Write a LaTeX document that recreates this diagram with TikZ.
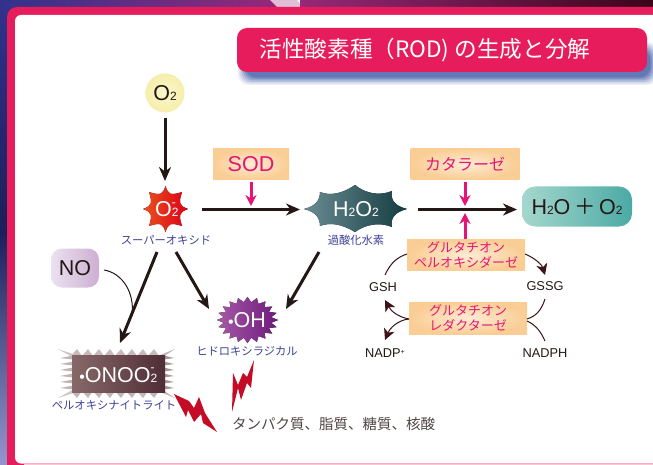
\documentclass[tikz,border=0pt]{standalone}
\usepackage{fontspec}
\setmainfont{Liberation Sans}
\newfontfamily\cjk{Noto Sans CJK JP}
\usetikzlibrary{arrows.meta}
\definecolor{rosered}{RGB}{230,28,92}
\definecolor{labelblue}{RGB}{62,66,150}
\definecolor{enz}{RGB}{250,205,148}
\definecolor{enzc}{RGB}{253,236,212}
\definecolor{mag}{RGB}{230,20,115}
\definecolor{ink}{RGB}{35,24,21}
\definecolor{maroon}{RGB}{60,20,25}
\definecolor{bolt}{RGB}{196,12,38}
\definecolor{bgA}{RGB}{50,50,140}
\definecolor{bgC}{RGB}{150,40,120}
\definecolor{bgD}{RGB}{60,5,25}
\definecolor{bgE}{RGB}{30,30,90}
\definecolor{bgF}{RGB}{150,150,205}
\definecolor{shadowc}{RGB}{50,80,160}
\definecolor{oneA}{RGB}{135,105,105}
\definecolor{oneB}{RGB}{80,45,55}
\definecolor{supA}{RGB}{235,80,30}
\definecolor{supB}{RGB}{220,0,25}
\definecolor{hA}{RGB}{105,140,145}
\definecolor{hB}{RGB}{20,60,65}
\definecolor{oA}{RGB}{165,90,165}
\definecolor{oB}{RGB}{110,25,125}
\definecolor{prodA}{RGB}{165,215,205}
\definecolor{prodB}{RGB}{75,170,165}
\definecolor{noA}{RGB}{235,225,240}
\definecolor{noB}{RGB}{205,175,210}
\definecolor{oxA}{RGB}{250,248,205}
\definecolor{oxB}{RGB}{246,238,170}
\tikzset{
 enzbox/.style={inner color=enzc,outer color=enz,minimum width=#1,minimum height=31pt,inner sep=0pt,align=center,text=mag},
 mainarrow/.style={draw=ink,line width=3pt,-{Stealth[length=14pt,width=12pt]}},
 pinkarrow/.style={draw=mag,line width=3pt,-{Stealth[length=11pt,width=11pt]}},
 cyc/.style={draw=maroon,line width=1pt},
 cyca/.style={draw=maroon,line width=1pt,-{Stealth[length=11pt,width=11pt,inset=3pt]}},
 lbl/.style={text=labelblue,font=\cjk\fontsize{11.3}{13}\selectfont,inner sep=0pt},
 small/.style={text=ink,font=\fontsize{12.8}{15}\selectfont,inner sep=0pt},
 big/.style={font=\fontsize{21.5}{24}\selectfont,inner sep=0pt},
}
\newcommand{\sbs}[1]{\raisebox{-.5pt}{\fontsize{12}{13}\selectfont #1}}
\newcommand{\rdot}{\raisebox{0pt}{\fontsize{16}{17}\selectfont •}}
\newcommand{\chg}[1]{\hspace{-6.5pt}\raisebox{#1}{\fontsize{12}{13}\selectfont -}\hspace{0pt}}
\begin{document}
\begin{tikzpicture}[x=1pt,y=-1pt]
\useasboundingbox (0,0) rectangle (653,465);
% background
\shade[top color=bgA,bottom color=bgF,middle color=bgE] (0,0) rectangle (20,465);
\fill[left color=bgA,right color=bgC] (0,0) rectangle (280,10);
\fill[white!70!bgC] (270,0) -- (297,0) -- (305,10) -- (280,10) -- cycle;
\fill[left color=bgC,right color=bgD] (300,0) rectangle (653,10);
% panel
\fill[rosered,rounded corners=10pt] (7,7) rectangle (680,480);
\fill[white,rounded corners=6pt] (15,15) rectangle (680,463.5);
\fill[rosered!25] (24,464) rectangle (653,465);
% title
\foreach \k/\o in {8/.1,6.5/.13,5/.17,3.5/.22,2/.28,.5/.35}{
  \fill[shadowc,opacity=\o,rounded corners=11pt] (246-\k,50-\k) rectangle (650+\k,77+\k);
}
\node[fill=rosered,rounded corners=10pt,minimum width=410pt,minimum height=44pt,inner sep=0pt] (title) at (442,50) {};
\node[text=white,font=\cjk\fontsize{22.6}{26}\selectfont,inner sep=0pt] (titlet) at (425,50) {活性酸素種（ROD) の生成と分解};
% O2
\node[circle,minimum size=39pt,inner color=oxA,outer color=oxB,big,text=ink] (o2) at (165,93) {O\sbs{2}};
% superoxide burst
\fill[left color=supA,right color=supB]
  (165.5,186) .. controls (168,194) and (170,196) .. (182,192)
  .. controls (178,204) and (180,206) .. (188,209)
  .. controls (180,212) and (178,214) .. (182,226)
  .. controls (170,222) and (168,224) .. (165.5,232)
  .. controls (163,224) and (161,222) .. (149,226)
  .. controls (153,214) and (151,212) .. (143,209)
  .. controls (151,206) and (153,204) .. (149,192)
  .. controls (161,196) and (163,194) .. (165.5,186) -- cycle;
\node[text=white,big] (sup2) at (165.5,209) {O\sbs{2}\chg{10pt}};
\node[lbl] (supl) at (166,240) {スーパーオキシド};
% H2O2
\fill[left color=hA,right color=hB]
 (304,209) .. controls (316,206) and (320,200) .. (320,192) .. controls (330,196) and (342,194) .. (355,185) .. controls (366,194) and (380,196) .. (392,191) .. controls (390,200) and (395,206) .. (407,209) .. controls (395,212) and (390,218) .. (392,227) .. controls (380,222) and (366,224) .. (355,232) .. controls (342,224) and (330,222) .. (320,226) .. controls (320,218) and (316,212) .. (304,209) -- cycle;
\node[text=white,big] (h2o2) at (356,209) {H\sbs{2}O\sbs{2}};
\node[lbl] (h2o2l) at (356,240) {過酸化水素};
% H2O + O2
\node[rounded corners=13pt,left color=prodA,right color=prodB,minimum width=110pt,minimum height=40pt,text=ink,big] (prod) at (577,206.5) {H\sbs{2}O\,{\cjk ＋}\,O\sbs{2}};
% enzymes
\node[enzbox=76pt,font=\fontsize{21.5}{24}\selectfont] (sod) at (251,164) {SOD};
\node[enzbox=109pt,font=\cjk\fontsize{16}{19}\selectfont] (cat) at (465,164) {カタラーゼ};
\node[enzbox=118pt,font=\cjk\fontsize{13}{14.5}\selectfont] (gpx) at (466,255) {グルタチオン\\ペルオキシダーゼ};
\node[enzbox=118pt,minimum height=32pt,font=\cjk\fontsize{13}{14.5}\selectfont] (gr) at (468,318) {グルタチオン\\レダクターゼ};
% NO
\node[rounded corners=11pt,left color=noA,right color=noB,minimum width=48pt,minimum height=39pt,text=ink,big] (no) at (75,268) {NO};
% ONOO burst
\foreach \x in {71,82,...,156}{
 \fill[oneA!45] (\x,356) -- (\x+6,349) -- (\x+11,356) -- cycle;
 \fill[oneB!35] (\x,391) -- (\x+6,398) -- (\x+11,391) -- cycle;
}
\foreach \y in {357,363,...,387}{
 \fill[oneA!50] (73,\y-1.5) -- (60,\y+1) -- (73,\y+2.5) -- cycle;
 \fill[oneB!50] (164,\y-1.5) -- (174,\y+1) -- (164,\y+2.5) -- cycle;
}
\fill[oneA!40] (76,355) -- (58,349) -- (76,359) -- cycle;
\fill[oneA!40] (76,392) -- (58,398) -- (76,388) -- cycle;
\fill[oneB!35] (160,355) -- (175,349) -- (160,359) -- cycle;
\fill[oneB!35] (160,392) -- (175,398) -- (160,388) -- cycle;
\fill[left color=oneA,right color=oneB] (72,355) rectangle (165,392);
\node[text=white,big] (onoo) at (117,375) {\rdot ONOO\sbs{2}\chg{11pt}};
\node[lbl] (onool) at (114,405) {ペルオキシナイトライト};
% OH burst
\fill[left color=oA,right color=oB]
 plot[samples=41,domain=0:360,variable=\t]
  ({247.5+(mod(round(\t/9),2)==0 ? 30.5 : 24)*cos(\t)},{320+(mod(round(\t/9),2)==0 ? 23 : 18)*sin(\t)}) -- cycle;
\node[text=white,big] (oh) at (247,320) {\rdot OH};
\node[lbl] (ohl) at (247,351) {ヒドロキシラジカル};
% bolts
\fill[bolt] (254,360) -- (251,388) -- (247,383) -- (241,400) -- (238,388) -- (232,412) -- (233,373) -- (238,385) -- (243,373) -- (247,377) -- cycle;
\fill[bolt] (174,394) -- (189,401) -- (194,408) -- (199,397) -- (205,413) -- (217,432) -- (203,423) -- (201,414) -- (194,422) -- (188,410) -- (186,417) -- cycle;
\node[text=ink!80,font=\cjk\fontsize{14.5}{17}\selectfont,inner sep=0pt,anchor=west] (tan) at (232,424) {タンパク質、脂質、糖質、核酸};
% small labels
\node[small] (gsh) at (383,287) {GSH};
\node[small] (gssg) at (545,286) {GSSG};
\node[small] (nadp) at (385,353) {NADP\raisebox{3pt}{\fontsize{7}{8}\selectfont +}};
\node[small] (nadph) at (545,353) {NADPH};
% arrows
\coordinate (o1) at (165,118); \coordinate (o3) at (165,181);
\draw[mainarrow] (o1) -- (o3);
\coordinate (a1) at (202,209.5); \coordinate (a2) at (300,209.5);
\draw[mainarrow] (a1) -- (a2);
\coordinate (b1) at (418,209.5); \coordinate (b2) at (517,209.5);
\draw[mainarrow] (b1) -- (b2);
\coordinate (c1) at (157,252); \coordinate (c2) at (120,343);
\draw[mainarrow] (c1) -- (c2);
\coordinate (d1) at (176,252); \coordinate (d2) at (209,309);
\draw[mainarrow] (d1) -- (d2);
\coordinate (e1) at (319,252); \coordinate (e2) at (286,309);
\draw[mainarrow] (e1) -- (e2);
\coordinate (s1) at (251,182); \coordinate (s2) at (251,206);
\draw[pinkarrow] (s1) -- (s2);
\coordinate (k1) at (465,182); \coordinate (k2) at (465,206);
\draw[pinkarrow] (k1) -- (k2);
\coordinate (g1) at (465,239); \coordinate (g2) at (465,213);
\draw[pinkarrow] (g1) -- (g2);
\coordinate (n1) at (104,270); \coordinate (n2) at (132,316);
\draw[cyc,draw=ink] (n1) .. controls (122,273) and (135,292) .. (n2);
\coordinate (p1) at (385,275); \coordinate (p2) at (407,254);
\draw[cyc] (p1) .. controls (391,262) and (398,257) .. (p2);
\coordinate (p3) at (525,254); \coordinate (p4) at (545,275);
\draw[cyca] (p3) .. controls (535,258) and (542,265) .. (p4);
\coordinate (q1) at (545,299); \coordinate (q2) at (527,319);
\draw[cyc] (q1) .. controls (541,311) and (536,316) .. (q2);
\coordinate (q3) at (527,321); \coordinate (q4) at (545,341);
\draw[cyc] (q3) .. controls (536,325) and (541,332) .. (q4);
\coordinate (r1) at (409,319); \coordinate (r2) at (385,300); \coordinate (r3) at (385,340);
\draw[cyca] (r1) .. controls (398,317) and (391,311) .. (r2);
\draw[cyca] (r1) .. controls (398,320) and (390,328) .. (r3);
\end{tikzpicture}
\end{document}
